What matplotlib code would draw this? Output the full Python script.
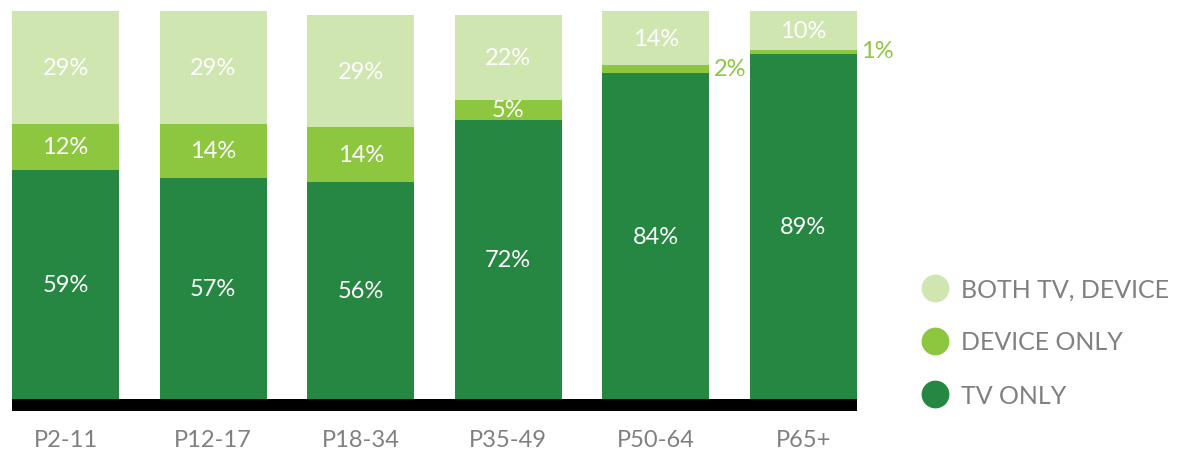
import matplotlib.pyplot as plt
from matplotlib.lines import Line2D

# share of each age group reached by TV only / device only / both
groups = ['P2-11', 'P12-17', 'P18-34', 'P35-49', 'P50-64', 'P65+']
tv_only = [59, 57, 56, 72, 84, 89]
device_only = [12, 14, 14, 5, 2, 1]
both = [29, 29, 29, 22, 14, 10]

series_names = ['BOTH TV, DEVICE', 'DEVICE ONLY', 'TV ONLY']
dark_green = '#268742'
mid_green = '#8dc63f'
light_green = '#d0e6b0'
gray = '#808080'

plt.rcParams['font.family'] = ['Lato', 'DejaVu Sans']

fig = plt.figure(figsize=(11.92, 4.52), dpi=100)
W, H = 1192, 452
ax = fig.add_axes([12 / W, 40 / H, 845 / W, 400 / H])

x = range(len(groups))
bw = 0.725
ax.bar(x, tv_only, bw, color=dark_green)
ax.bar(x, device_only, bw, bottom=tv_only, color=mid_green)
tops = [a + b for a, b in zip(tv_only, device_only)]
ax.bar(x, both, bw, bottom=tops, color=light_green)

# thick black baseline under the bars
ax.axhspan(-3.1, 0, color='black', lw=0)

for i in x:
    ax.text(i, tv_only[i] / 2, f'{tv_only[i]}%', ha='center', va='center',
            color='white', fontsize=17)
    if device_only[i] >= 5:
        ax.text(i, tv_only[i] + device_only[i] / 2, f'{device_only[i]}%',
                ha='center', va='center', color='white', fontsize=17)
    else:
        # thin slices get their label beside the bar
        ax.text(i + bw / 2 + 0.03, tv_only[i] + device_only[i] / 2 + 0.3,
                f'{device_only[i]}%', ha='left', va='center',
                color=mid_green, fontsize=17)
    ax.text(i, tops[i] + both[i] / 2, f'{both[i]}%', ha='center', va='center',
            color='white', fontsize=17)

ax.set_xlim(-0.3625, 5.3625)
ax.set_ylim(-3.1, 100)
ax.set_xticks(list(x))
ax.set_xticklabels(groups, fontsize=17, color=gray)
ax.tick_params(length=0, pad=13)
ax.set_yticks([])
for s in ax.spines.values():
    s.set_visible(False)

handles = [Line2D([], [], ls='none', marker='o', markersize=19, color=c)
           for c in [light_green, mid_green, dark_green]]
fig.legend(handles, series_names, loc='upper left',
           bbox_to_anchor=(895 / W, 1 - 256 / H), frameon=False,
           fontsize=18, labelcolor=gray, labelspacing=1.2,
           handletextpad=0.35, handlelength=1.4)

fig.savefig('out.png', dpi=100)
